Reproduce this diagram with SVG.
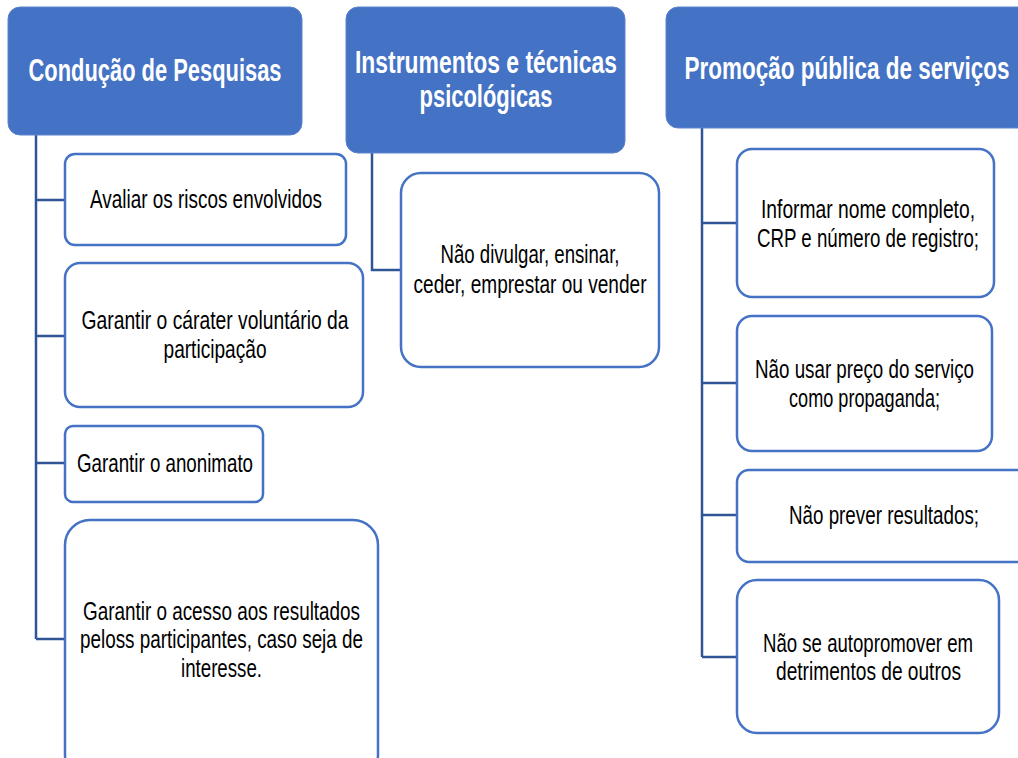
<svg xmlns="http://www.w3.org/2000/svg" width="1018" height="758" viewBox="0 0 1018 758">
<style>
.hdr{fill:#4472C4;stroke:#5B84CC;stroke-width:1}
.box{fill:#FFFFFF;stroke:#4472C4;stroke-width:2.5}
.ht{font-family:"Liberation Sans",Arial,sans-serif;font-weight:bold;font-size:32px;fill:#FFFFFF;text-anchor:middle}
.bt{font-family:"Liberation Sans",Arial,sans-serif;font-size:25.5px;fill:#000000;text-anchor:middle}
.con{fill:none;stroke:#2F5597;stroke-width:2.5}
</style>
<rect width="1018" height="758" fill="#FFFFFF"/>
<g id="connectors">
<path class="con" d="M36 135 V639 M36 200 H65 M36 336 H65 M36 463 H65 M36 639 H65"/>
<path class="con" d="M372 153 V270 H401"/>
<path class="con" d="M702 128 V657 M702 223 H737 M702 383 H737 M702 515 H737 M702 657 H737"/>
</g>
<g id="h1">
<rect class="hdr" x="8" y="7" width="294" height="128" rx="12"/>
<text class="ht" transform="translate(155 81) scale(0.7 1)" textLength="361.4" lengthAdjust="spacingAndGlyphs">Condução de Pesquisas</text>
</g>
<g id="h2">
<rect class="hdr" x="346" y="7" width="279" height="146" rx="12"/>
<text class="ht" transform="translate(486 73) scale(0.7 1)" textLength="374.3" lengthAdjust="spacingAndGlyphs">Instrumentos e técnicas</text>
<text class="ht" transform="translate(486 107) scale(0.7 1)" textLength="190" lengthAdjust="spacingAndGlyphs">psicológicas</text>
</g>
<g id="h3">
<rect class="hdr" x="666" y="7" width="370" height="121" rx="12"/>
<text class="ht" transform="translate(847 79) scale(0.7 1)" textLength="464.3" lengthAdjust="spacingAndGlyphs">Promoção pública de serviços</text>
</g>
<g id="b1">
<rect class="box" x="65" y="154" width="281" height="91" rx="10"/>
<text class="bt" transform="translate(206 208) scale(0.8 1)" textLength="290" lengthAdjust="spacingAndGlyphs">Avaliar os riscos envolvidos</text>
</g>
<g id="b2">
<rect class="box" x="65" y="263" width="298" height="144" rx="15"/>
<text class="bt" transform="translate(215 329) scale(0.8 1)" textLength="333.75" lengthAdjust="spacingAndGlyphs">Garantir o cárater voluntário da</text>
<text class="bt" transform="translate(215 358) scale(0.8 1)" textLength="128.75" lengthAdjust="spacingAndGlyphs">participação</text>
</g>
<g id="b3">
<rect class="box" x="65" y="426" width="198" height="76" rx="8"/>
<text class="bt" transform="translate(165 472) scale(0.8 1)" textLength="220" lengthAdjust="spacingAndGlyphs">Garantir o anonimato</text>
</g>
<g id="b4">
<rect class="box" x="65" y="520" width="313" height="260" rx="25"/>
<text class="bt" transform="translate(221.5 620) scale(0.8 1)" textLength="346.25" lengthAdjust="spacingAndGlyphs">Garantir o acesso aos resultados</text>
<text class="bt" transform="translate(221.5 648) scale(0.8 1)" textLength="353.75" lengthAdjust="spacingAndGlyphs">peloss participantes, caso seja de</text>
<text class="bt" transform="translate(221.5 677) scale(0.8 1)" textLength="101.25" lengthAdjust="spacingAndGlyphs">interesse.</text>
</g>
<g id="b5">
<rect class="box" x="401" y="173" width="258" height="194" rx="20"/>
<text class="bt" transform="translate(530 263) scale(0.8 1)" textLength="223.75" lengthAdjust="spacingAndGlyphs">Não divulgar, ensinar,</text>
<text class="bt" transform="translate(530 293) scale(0.8 1)" textLength="291.25" lengthAdjust="spacingAndGlyphs">ceder, emprestar ou vender</text>
</g>
<g id="b6">
<rect class="box" x="737" y="149" width="257" height="148" rx="15"/>
<text class="bt" transform="translate(868 218) scale(0.8 1)" textLength="267.5" lengthAdjust="spacingAndGlyphs">Informar nome completo,</text>
<text class="bt" transform="translate(868 247) scale(0.8 1)" textLength="277.5" lengthAdjust="spacingAndGlyphs">CRP e número de registro;</text>
</g>
<g id="b7">
<rect class="box" x="737" y="316" width="255" height="135" rx="15"/>
<text class="bt" transform="translate(864.5 378) scale(0.8 1)" textLength="273.75" lengthAdjust="spacingAndGlyphs">Não usar preço do serviço</text>
<text class="bt" transform="translate(864.5 407) scale(0.8 1)" textLength="188.75" lengthAdjust="spacingAndGlyphs">como propaganda;</text>
</g>
<g id="b8">
<rect class="box" x="737" y="470" width="300" height="92" rx="12"/>
<text class="bt" transform="translate(884 524) scale(0.8 1)" textLength="237.5" lengthAdjust="spacingAndGlyphs">Não prever resultados;</text>
</g>
<g id="b9">
<rect class="box" x="737" y="580" width="262" height="153" rx="20"/>
<text class="bt" transform="translate(868 652) scale(0.8 1)" textLength="262.5" lengthAdjust="spacingAndGlyphs">Não se autopromover em</text>
<text class="bt" transform="translate(868.5 680) scale(0.8 1)" textLength="231.25" lengthAdjust="spacingAndGlyphs">detrimentos de outros</text>
</g>
</svg>
